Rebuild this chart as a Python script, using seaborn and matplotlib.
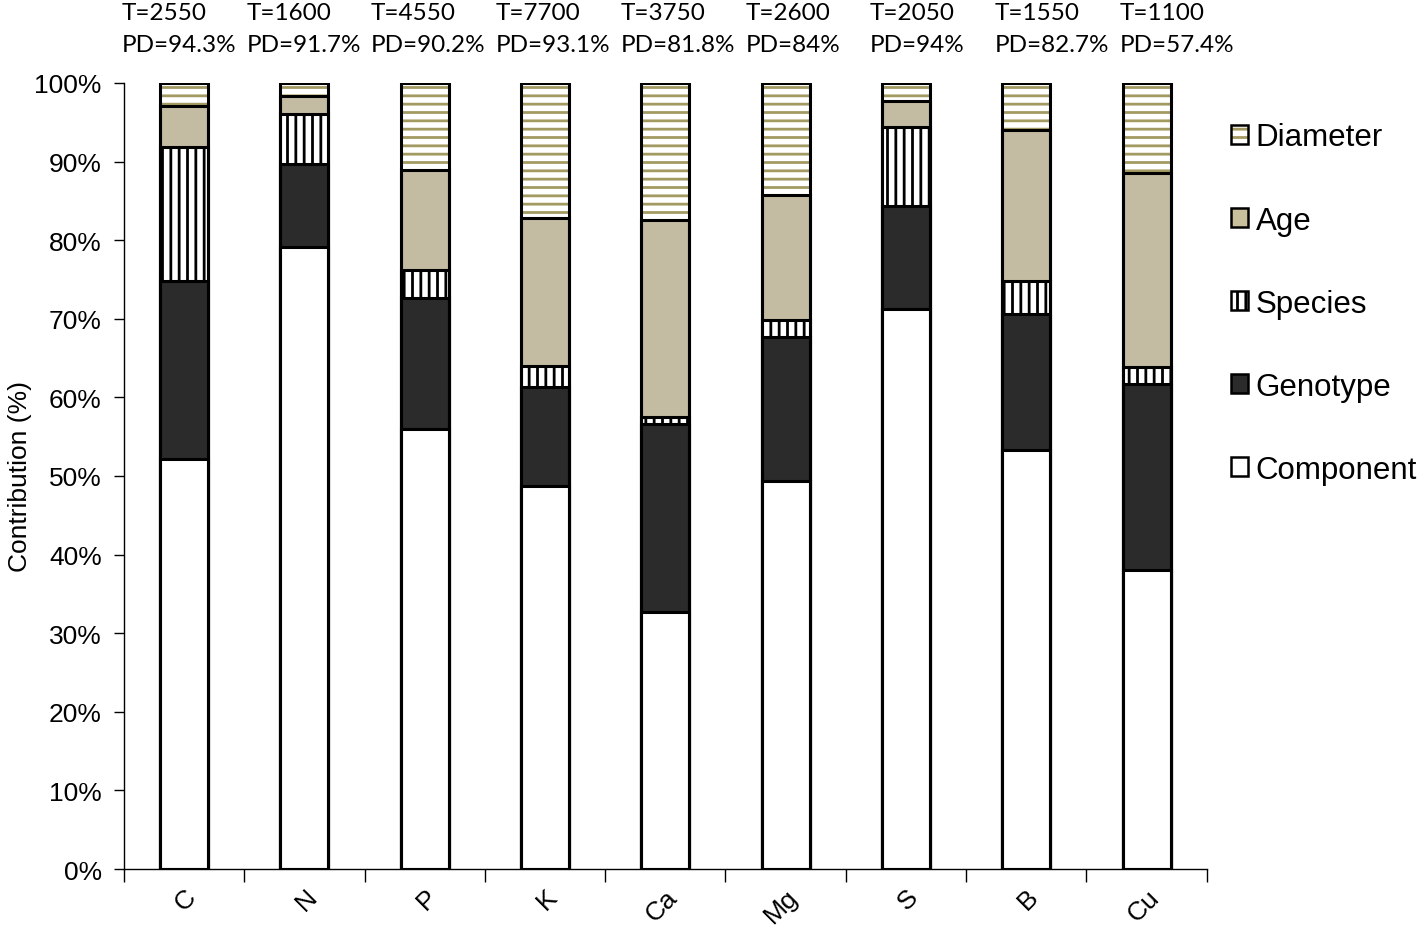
import matplotlib
matplotlib.use("Agg")
import matplotlib.pyplot as plt
from matplotlib.patches import Patch
from matplotlib.legend_handler import HandlerTuple
import seaborn as sns
import pandas as pd
import numpy as np

# contributions (%) per nutrient
nutrients = ["C", "N", "P", "K", "Ca", "Mg", "S", "B", "Cu"]
component = [52.2, 79.1, 56.0, 48.7, 32.7, 49.4, 71.2, 53.3, 38.0]
genotype = [22.6, 10.6, 16.6, 12.6, 23.9, 18.3, 13.2, 17.3, 23.7]
species = [17.1, 6.4, 3.6, 2.7, 0.9, 2.1, 10.0, 4.2, 2.2]
age = [5.2, 2.2, 12.7, 18.8, 25.1, 16.0, 3.3, 19.2, 24.6]
diameter = [2.9, 1.7, 11.1, 17.2, 17.4, 14.2, 2.3, 6.0, 11.5]
t_values = [2550, 1600, 4550, 7700, 3750, 2600, 2050, 1550, 1100]
pd_values = ["94.3%", "91.7%", "90.2%", "93.1%", "81.8%", "84%", "94%", "82.7%", "57.4%"]

df = pd.DataFrame({"nutrient": nutrients, "Component": component, "Genotype": genotype,
                   "Species": species, "Age": age, "Diameter": diameter})
layers = ["Component", "Genotype", "Species", "Age", "Diameter"]
cum = df[layers].cumsum(axis=1)
cum = cum.div(cum["Diameter"], axis=0) * 100
cum["nutrient"] = nutrients

sns.set_style("ticks")
plt.rcParams["font.family"] = ["Liberation Sans", "DejaVu Sans"]
plt.rcParams["hatch.linewidth"] = 2.0
for k in ["text.color", "axes.labelcolor", "xtick.color", "ytick.color"]:
    plt.rcParams[k] = "black"

olive = "#a39a62"
tan = "#c8c09c"
dark = "#2b2b2b"
lw = 2.2

fig = plt.figure(figsize=(14.18, 9.29), dpi=100)
ax = fig.add_axes([0.0874, 0.0635, 0.7636, 0.8461])

# stacked by drawing cumulative heights from top down
sns.barplot(data=cum, x="nutrient", y="Diameter", color="white", edgecolor=olive,
            hatch="--", linewidth=0, width=0.4, ax=ax)
sns.barplot(data=cum, x="nutrient", y="Age", color=tan, edgecolor="black",
            linewidth=lw, width=0.4, ax=ax)
sns.barplot(data=cum, x="nutrient", y="Species", color="white", edgecolor="black",
            hatch="||", linewidth=lw, width=0.4, ax=ax)
sns.barplot(data=cum, x="nutrient", y="Genotype", color=dark, edgecolor="black",
            linewidth=lw, width=0.4, ax=ax)
sns.barplot(data=cum, x="nutrient", y="Component", color="white", edgecolor="black",
            linewidth=lw, width=0.4, ax=ax)
sns.barplot(data=cum, x="nutrient", y="Diameter", fill=False, color="black",
            linewidth=lw, width=0.4, ax=ax)

ax.set_xlim(-0.5, len(nutrients) - 0.5)
ax.set_ylim(0, 100)
ax.set_yticks(np.arange(0, 101, 10))
ax.set_yticklabels([f"{v}%" for v in range(0, 101, 10)], fontsize=19)
ax.set_xticks(range(len(nutrients)))
ax.set_xticklabels(nutrients, fontsize=19, rotation=45, ha="right", rotation_mode="anchor")
ax.set_xticks(np.arange(-0.5, len(nutrients), 1), minor=True)
ax.tick_params(axis="x", which="major", length=0, pad=11)
ax.tick_params(axis="x", which="minor", length=9, width=1, direction="out")
ax.tick_params(axis="y", length=7, width=1, direction="out", pad=9)
ax.set_xlabel("")
ax.set_ylabel("Contribution (%)", fontsize=19, family=["Liberation Sans Narrow", "Liberation Sans"],
              labelpad=2)
for s in ["left", "bottom"]:
    ax.spines[s].set_linewidth(1)
    ax.spines[s].set_color("black")
sns.despine(ax=ax)

for i, (t, p) in enumerate(zip(t_values, pd_values)):
    x0 = i - 0.52 + 0.037 * i
    ax.text(x0, 109.0, f"T={t}", fontsize=17.5, family=["Lato", "DejaVu Sans"],
            ha="left", va="center", clip_on=False)
    ax.text(x0, 104.9, f"PD={p}", fontsize=17.5, family=["Lato", "DejaVu Sans"],
            ha="left", va="center", clip_on=False)

handles = [
    (Patch(facecolor="white", edgecolor=olive, hatch="--", linewidth=0),
     Patch(facecolor="none", edgecolor="black", linewidth=1.8)),
    Patch(facecolor=tan, edgecolor="black", linewidth=1.8),
    Patch(facecolor="white", edgecolor="black", hatch="||", linewidth=1.8),
    Patch(facecolor=dark, edgecolor="black", linewidth=1.8),
    Patch(facecolor="white", edgecolor="black", linewidth=1.8),
]
labels = ["Diameter", "Age", "Species", "Genotype", "Component"]
fig.legend(handles, labels, loc="upper left", bbox_to_anchor=(0.857, 0.884),
           frameon=False, fontsize=22.5, handlelength=0.55, handleheight=0.55,
           handletextpad=0.25, labelspacing=1.7, borderpad=0,
           handler_map={tuple: HandlerTuple(ndivide=1)})

fig.savefig("out.png", dpi=100)
plt.close(fig)
